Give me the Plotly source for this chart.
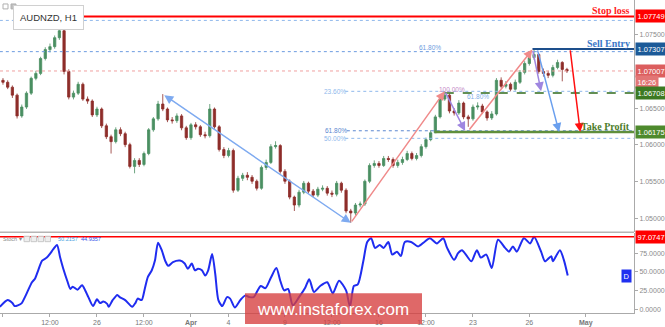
import plotly.graph_objects as go

# ---------------- data ----------------
# candle time in trading hours from Mon 19 Mar 00:00 (6-hour bars)
bar_hours = list(range(0, 721, 6))
first_open = 1.06880
closes = [1.06853, 1.06786, 1.06678, 1.06395, 1.06516, 1.06705, 1.06907, 1.06974, 1.07177, 1.07298,
          1.07338, 1.07460, 1.07554, 1.07001, 1.06651, 1.06705, 1.06826, 1.06624, 1.06597, 1.06409,
          1.06489, 1.06260, 1.06112, 1.06045, 1.06206, 1.06153, 1.06004, 1.05708, 1.05789, 1.05735,
          1.05883, 1.06206, 1.06355, 1.06557, 1.06489, 1.06341, 1.06330, 1.06395, 1.06233, 1.06099,
          1.06274, 1.06247, 1.06139, 1.06126, 1.06489, 1.06247, 1.05937, 1.05856, 1.05923, 1.05384,
          1.05546, 1.05587, 1.05560, 1.05506, 1.05411, 1.05694, 1.05762, 1.05977, 1.05991, 1.05640,
          1.05506, 1.05290, 1.05182, 1.05357, 1.05479, 1.05371, 1.05317, 1.05398, 1.05410, 1.05344,
          1.05330, 1.05479, 1.05384, 1.05101, 1.05074, 1.05182, 1.05196, 1.05506, 1.05721, 1.05748,
          1.05721, 1.05816, 1.05802, 1.05721, 1.05762, 1.05802, 1.05883, 1.05816, 1.05856, 1.05977,
          1.06072, 1.06166, 1.06382, 1.06624, 1.06678, 1.06462, 1.06436, 1.06570, 1.06382, 1.06355,
          1.06516, 1.06530, 1.06449, 1.06368, 1.06422, 1.06880, 1.06799, 1.06826, 1.06759, 1.06853,
          1.06988, 1.07109, 1.07190, 1.07231, 1.07001, 1.06974, 1.06948, 1.07055, 1.07123, 1.07028,
          1.07007]
highs = [1.06910, 1.06880, 1.06810, 1.06700, 1.06550, 1.06730, 1.06930, 1.07010, 1.07200, 1.07330,
         1.07380, 1.07490, 1.07581, 1.07570, 1.07030, 1.06740, 1.06860, 1.06850, 1.06660, 1.06620,
         1.06520, 1.06510, 1.06290, 1.06140, 1.06240, 1.06240, 1.06180, 1.06030, 1.05820, 1.05820,
         1.05910, 1.06230, 1.06380, 1.06600, 1.06692, 1.06510, 1.06380, 1.06430, 1.06420, 1.06260,
         1.06300, 1.06310, 1.06270, 1.06180, 1.06557, 1.06510, 1.06270, 1.05970, 1.05960, 1.05950,
         1.05580, 1.05620, 1.05630, 1.05590, 1.05530, 1.05720, 1.05800, 1.06010, 1.06050, 1.06010,
         1.05670, 1.05530, 1.05310, 1.05390, 1.05510, 1.05500, 1.05400, 1.05430, 1.05450, 1.05440,
         1.05380, 1.05510, 1.05500, 1.05410, 1.05130, 1.05210, 1.05230, 1.05530, 1.05750, 1.05790,
         1.05780, 1.05850, 1.05850, 1.05830, 1.05800, 1.05840, 1.05920, 1.05910, 1.05890, 1.06010,
         1.06100, 1.06200, 1.06410, 1.06650, 1.06732, 1.06700, 1.06500, 1.06610, 1.06590, 1.06410,
         1.06550, 1.06580, 1.06560, 1.06470, 1.06460, 1.06910, 1.06920, 1.06870, 1.06850, 1.06890,
         1.07020, 1.07140, 1.07220, 1.07300, 1.07250, 1.07040, 1.07010, 1.07090, 1.07160, 1.07140,
         1.07050]
lows = [1.06820, 1.06760, 1.06640, 1.06360, 1.06370, 1.06490, 1.06680, 1.06880, 1.06950, 1.07150,
        1.07260, 1.07310, 1.07430, 1.06960, 1.06620, 1.06620, 1.06680, 1.06600, 1.06560, 1.06380,
        1.06380, 1.06230, 1.06080, 1.05883, 1.06020, 1.06120, 1.05970, 1.05680, 1.05614, 1.05700,
        1.05710, 1.05860, 1.06180, 1.06330, 1.06460, 1.06310, 1.06290, 1.06300, 1.06200, 1.06070,
        1.06070, 1.06210, 1.06110, 1.06090, 1.06100, 1.06220, 1.05910, 1.05820, 1.05830, 1.05350,
        1.05360, 1.05510, 1.05520, 1.05470, 1.05380, 1.05390, 1.05660, 1.05740, 1.05950, 1.05610,
        1.05470, 1.05260, 1.05101, 1.05150, 1.05330, 1.05340, 1.05290, 1.05290, 1.05370, 1.05310,
        1.05290, 1.05300, 1.05350, 1.05070, 1.04940, 1.05040, 1.05150, 1.05170, 1.05480, 1.05690,
        1.05690, 1.05700, 1.05770, 1.05690, 1.05690, 1.05730, 1.05780, 1.05790, 1.05790, 1.05830,
        1.05950, 1.06050, 1.06175, 1.06360, 1.06600, 1.06430, 1.06400, 1.06410, 1.06350, 1.06247,
        1.06330, 1.06480, 1.06420, 1.06330, 1.06340, 1.06400, 1.06770, 1.06770, 1.06730, 1.06740,
        1.06830, 1.06960, 1.07080, 1.07160, 1.06970, 1.06930, 1.06910, 1.06920, 1.07030, 1.06866,
        1.06980]
opens = [first_open] + closes[:-1]

stoch_hours = [-4, 6, 12, 15, 19, 24, 28, 32, 37, 41, 45, 50, 56, 60, 64, 69, 73, 77, 82, 86,
               89, 95, 101, 105, 109, 115, 120, 124, 128, 133, 135, 140, 146, 149, 156, 165, 169, 172, 177, 181,
               185, 190, 194, 198, 203, 207, 211, 217, 226, 232, 236, 241, 245, 249, 254, 258, 262, 267, 271, 275,
               280, 286, 290, 296, 303, 309, 315, 320, 329, 335, 342, 349, 354, 359, 364, 370, 378, 386, 391, 397,
               405, 414, 421, 429, 438, 443, 448, 453, 460, 465, 470, 475, 481, 486, 492, 497, 503, 508, 513, 521,
               530, 538, 545, 554, 562, 567, 576, 581, 586, 591, 598, 605, 610, 617, 624, 632, 641, 646, 651, 656,
               665, 673, 678, 687, 692, 700, 702, 711, 716, 721]
stoch_vals = [3, 12, 8, 4, 5, 8, 16, 25, 36, 41, 52, 65, 69, 74, 80, 86, 69, 54, 38, 27,
              30, 26, 32, 25, 16, 4, 13, 8, 10, 7, 3, 12, 19, 16, 12, 3, 8, 14, 12, 27,
              43, 52, 65, 89, 78, 65, 58, 63, 65, 61, 54, 61, 52, 54, 52, 45, 52, 74, 47, 12,
              4, 16, 14, 2, 12, 18, 16, 16, 31, 28, 42, 55, 38, 25, 27, 5, 16, 29, 40, 23,
              31, 36, 21, 38, 25, 3, 31, 33, 64, 90, 95, 82, 86, 82, 90, 73, 77, 71, 90, 90,
              84, 90, 95, 88, 95, 82, 66, 75, 79, 73, 64, 79, 69, 73, 55, 93, 82, 77, 84, 77,
              95, 88, 97, 77, 64, 71, 64, 79, 66, 45]

price_ticks = [1.05, 1.055, 1.06, 1.065, 1.075]
stoch_ticks = [0, 25, 50, 75]
x_tick_hours = [0, 60, 120, 180, 240, 288, 360, 420, 480, 540, 600, 672, 744]
x_tick_text = ["19", "12:00", "26", "12:00", "<b>Apr</b>", "4", "9", "12:00", "16", "12:00", "23", "26", "<b>May</b>"]

stop_loss = 1.07749
sell_entry = 1.07307
current_price = 1.07007
support_level = 1.06708
take_profit = 1.06175
stoch_level = 97.0747
stoch_d = 44.9357

# arrow endpoints (hour, price): start -> end
arrows = [
    ((204, 1.06692), (444, 1.04940), "#7eaaf0", "end+start"),
    ((444, 1.04940), (564, 1.06732), "#f08a8a", "end"),
    ((564, 1.06732), (590, 1.06190), "#9f86e0", "end"),
    ((594, 1.06190), (676, 1.07300), "#f08a8a", "end"),
    ((676, 1.07300), (687, 1.06732), "#9f86e0", "end"),
    ((682, 1.07307), (710, 1.06175), "#6a9fee", "end"),
    ((724, 1.07307), (737, 1.06175), "#ff1010", "end"),
]
# fibonacci levels: (price, start hour, colour, label, label hour, label price)
fib_lines = [
    (1.07695, -4, "#8fb8ec", None, None, None),
    (1.07270, -4, "#6d9be0", "61.80%", 545, 1.07325),
    (1.06730, 437, "#8fb8ec", "23.60%", 424, 1.06730),
    (1.06193, 439, "#5a86d0", "61.80%", 425, 1.06193),
    (1.06090, 437, "#8fb8ec", "50.00%", 424, 1.06090),
]

X0, X1 = -3.8, 805.6
P0, P1 = 1.04818, 1.07973
S0, S1 = -5.3, 102.3

fig = go.Figure()
fig.add_trace(go.Candlestick(
    x=bar_hours, open=opens, high=highs, low=lows, close=closes,
    increasing=dict(line=dict(color="#4a8f62", width=0.8), fillcolor="#4a8f62"),
    decreasing=dict(line=dict(color="#8e2d2a", width=0.8), fillcolor="#8e2d2a"),
    whiskerwidth=0, showlegend=False, xaxis="x", yaxis="y"))
fig.add_trace(go.Scatter(
    x=stoch_hours, y=stoch_vals, mode="lines",
    line=dict(color="#1f2cf0", width=2, shape="spline", smoothing=0.7),
    showlegend=False, xaxis="x", yaxis="y2", hoverinfo="skip"))

shapes = []
annotations = []

def hline(y, x0, color, width=1, dash="solid", yref="y"):
    shapes.append(dict(type="line", xref="x", yref=yref, x0=x0, x1=X1, y0=y, y1=y,
                       line=dict(color=color, width=width, dash=dash), layer="above"))

for price, start, col, lab, lx, ly in fib_lines:
    hline(price, start, col, 1, "dot")
    if lab:
        annotations.append(dict(x=lx, y=ly, xref="x", yref="y", text=lab, showarrow=False,
                                font=dict(size=6.5, color=col, family="Liberation Sans"),
                                xanchor="center", yanchor="middle"))
annotations.append(dict(x=573, y=1.06748, xref="x", yref="y", text="100.00%", showarrow=False,
                        font=dict(size=6.5, color="#c58ac8", family="Liberation Sans")))
annotations.append(dict(x=606, y=1.06665, xref="x", yref="y", text="61.80%", showarrow=False,
                        font=dict(size=6.5, color="#7fb0e8", family="Liberation Sans")))

hline(current_price, X0, "#f0a0a0", 1, "dot")
hline(stop_loss, 47, "#ff0000", 2)
hline(sell_entry, 676, "#1d4f8c", 2)
hline(support_level, 564, "#2f6b1d", 1.5, "dash")
hline(take_profit, 551, "#5f8f3c", 2.5)
hline(stoch_level, X0, "#ff0000", 1.5, yref="y2")

# panel separator
shapes.append(dict(type="line", xref="paper", yref="paper", x0=0, x1=1, y0=1 - 234.5 / 316,
                   y1=1 - 234.5 / 316, line=dict(color="#b5b5b5", width=1.5)))

for (h0, p0), (h1, p1), col, side in arrows:
    annotations.append(dict(x=h1, y=p1, ax=h0, ay=p0, xref="x", yref="y", axref="x", ayref="y",
                            text="", showarrow=True, arrowhead=2, arrowsize=1.2, arrowwidth=1.5,
                            arrowcolor=col, arrowside=side, standoff=0, startstandoff=0))

# line labels
for txt, y, col in [("Stop loss", stop_loss, "#ff1a1a"), ("Sell Entry", sell_entry, "#3a78c8"),
                    ("Take Profit", take_profit, "#4d7d2a")]:
    annotations.append(dict(x=0.997, y=y, xref="paper", yref="y", text="<b>" + txt + "</b>",
                            showarrow=False, xanchor="right", yanchor="bottom", yshift=-2,
                            font=dict(size=10, color=col, family="Liberation Serif")))

# axis boxes
def box(y, txt, bg, yref="y", yshift=0):
    annotations.append(dict(x=1, y=y, xref="paper", yref=yref, text=txt, showarrow=False,
                            xanchor="left", yanchor="middle", xshift=1, yshift=yshift,
                            bgcolor=bg, borderpad=1.5,
                            font=dict(size=7.5, color="white", family="Liberation Sans")))

box(stop_loss, "%.5f" % stop_loss, "#ff0000")
box(sell_entry, "%.5f" % sell_entry, "#1c5a98")
box(current_price, "%.5f" % current_price, "#dc5e5e")
box(current_price, "16:26", "#e27575", yshift=-11)
box(support_level, "%.5f" % support_level, "#3c7a22")
box(take_profit, "%.5f" % take_profit, "#4e8a2d")
box(stoch_level, "%.4f" % stoch_level, "#ff0000", yref="y2")
annotations.append(dict(x=0.997, y=stoch_d, xref="paper", yref="y2", text="D", showarrow=False,
                        xanchor="right", bgcolor="#2030f0", borderpad=1.5,
                        font=dict(size=7.5, color="white", family="Liberation Sans")))

# title box
annotations.append(dict(x=13 / 634, y=1 - 18 / 316, xref="paper", yref="paper", text="AUDNZD, H1",
                        showarrow=False, xanchor="left", yanchor="middle", bgcolor="white",
                        bordercolor="#d0d0d0", borderwidth=1, borderpad=6,
                        font=dict(size=9.5, color="#333333", family="Liberation Sans")))
# top-left tiny icons
for i, xx in enumerate([3, 11]):
    shapes.append(dict(type="rect", xref="paper", yref="paper", x0=xx / 634, x1=(xx + 5) / 634,
                       y0=1 - 9 / 316, y1=1 - 4 / 316, line=dict(color="#b0b0b0", width=1),
                       fillcolor="white" if i == 0 else "#c0c0c0"))

# stoch header
annotations.append(dict(x=1 / 634, y=1 - 241 / 316, xref="paper", yref="paper", text="Stoch \u25be",
                        showarrow=False, xanchor="left", yanchor="middle",
                        font=dict(size=5.5, color="#888888", family="Liberation Sans")))
for i in range(4):
    x0p = (24 + 7 * i) / 634
    shapes.append(dict(type="rect", xref="paper", yref="paper", x0=x0p, x1=x0p + 5.5 / 634,
                       y0=1 - 244 / 316, y1=1 - 238.5 / 316, line=dict(color="#c8c8c8", width=1),
                       fillcolor="#eeeeee"))
annotations.append(dict(x=56 / 634, y=1 - 241 / 316, xref="paper", yref="paper", text="50.2157",
                        showarrow=False, xanchor="left", yanchor="middle",
                        font=dict(size=5.5, color="#4a9fe0", family="Liberation Sans")))
annotations.append(dict(x=79 / 634, y=1 - 241 / 316, xref="paper", yref="paper", text="44.9357",
                        showarrow=False, xanchor="left", yanchor="middle",
                        font=dict(size=5.5, color="#3050e8", family="Liberation Sans")))

# watermark
shapes.append(dict(type="rect", xref="paper", yref="paper", x0=245 / 634, x1=422 / 634,
                   y0=(316 - 327) / 316, y1=(316 - 296) / 316, line=dict(width=0),
                   fillcolor="rgba(214,62,62,0.78)", layer="above"))
annotations.append(dict(x=333.5 / 634, y=(316 - 312) / 316, xref="paper", yref="paper",
                        text="www.instaforex.com", showarrow=False, xanchor="center", yanchor="middle",
                        font=dict(size=17, color="white", family="Liberation Sans")))

axis_font = dict(size=7, color="#8a8a8a", family="Liberation Sans")
fig.update_layout(
    width=665, height=327,
    margin=dict(l=0, r=31, t=0, b=11),
    paper_bgcolor="white", plot_bgcolor="white",
    xaxis=dict(domain=[0, 1], range=[X0, X1], anchor="y2", showgrid=False, zeroline=False,
               tickmode="array", tickvals=x_tick_hours, ticktext=x_tick_text,
               ticks="outside", ticklen=3, tickcolor="#aaaaaa", tickfont=dict(size=7, color="#777777",
                                                                              family="Liberation Sans"),
               showline=True, linecolor="#aaaaaa", linewidth=1, rangeslider=dict(visible=False)),
    yaxis=dict(domain=[1 - 234 / 316, 1], range=[P0, P1], side="right", anchor="x", showgrid=False,
               zeroline=False, tickmode="array", tickvals=price_ticks, tickformat=".5f",
               ticks="outside", ticklen=3, tickcolor="#aaaaaa", tickfont=axis_font,
               showline=True, linecolor="#aaaaaa", linewidth=1),
    yaxis2=dict(domain=[0, 0.2563], range=[S0, S1], side="right", anchor="x", showgrid=False,
                zeroline=False, tickmode="array", tickvals=stoch_ticks, tickformat=".4f",
                ticks="outside", ticklen=3, tickcolor="#aaaaaa", tickfont=axis_font,
                showline=True, linecolor="#aaaaaa", linewidth=1),
    shapes=shapes, annotations=annotations,
)

fig.write_html("out.html")
